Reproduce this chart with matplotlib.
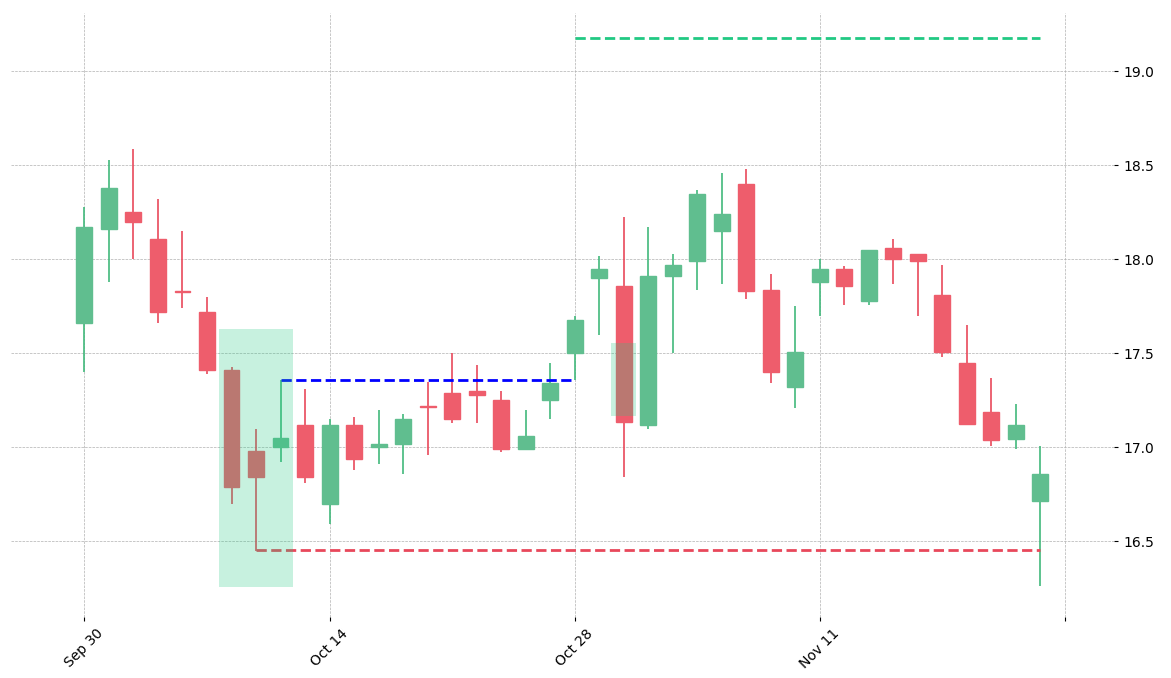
import matplotlib
matplotlib.use("Agg")
import matplotlib.pyplot as plt
import numpy as np

# ------------------------------------------
# Kursdaten
# ------------------------------------------
dates = ["Sep 30", "Oct 01", "Oct 02", "Oct 03", "Oct 04",
         "Oct 07", "Oct 08", "Oct 09", "Oct 10", "Oct 11",
         "Oct 14", "Oct 15", "Oct 16", "Oct 17", "Oct 18",
         "Oct 21", "Oct 22", "Oct 23", "Oct 24", "Oct 25",
         "Oct 28", "Oct 29", "Oct 30", "Oct 31", "Nov 01",
         "Nov 04", "Nov 05", "Nov 06", "Nov 07", "Nov 08",
         "Nov 11", "Nov 12", "Nov 13", "Nov 14", "Nov 15",
         "Nov 18", "Nov 19", "Nov 20", "Nov 21", "Nov 22"]

opens = [17.66, 18.16, 18.25, 18.11, 17.83, 17.72, 17.41, 16.98, 17.00, 17.12,
         16.70, 17.12, 17.00, 17.02, 17.22, 17.29, 17.30, 17.25, 16.99, 17.25,
         17.50, 17.90, 17.86, 17.12, 17.91, 17.99, 18.15, 18.40, 17.84, 17.32,
         17.88, 17.95, 17.78, 18.06, 18.03, 17.81, 17.45, 17.19, 17.045, 16.715]
highs = [18.28, 18.53, 18.59, 18.32, 18.15, 17.80, 17.43, 17.10, 17.36, 17.31,
         17.15, 17.16, 17.20, 17.18, 17.35, 17.50, 17.44, 17.30, 17.20, 17.45,
         17.70, 18.02, 18.225, 18.17, 18.03, 18.37, 18.46, 18.48, 17.92, 17.75,
         18.00, 17.965, 18.05, 18.11, 18.03, 17.97, 17.65, 17.37, 17.23, 17.01]
lows = [17.40, 17.88, 18.00, 17.66, 17.74, 17.39, 16.70, 16.45, 16.92, 16.81,
        16.59, 16.88, 16.91, 16.86, 16.96, 17.13, 17.13, 16.975, 16.985, 17.15,
        17.36, 17.60, 16.84, 17.10, 17.50, 17.84, 17.87, 17.79, 17.34, 17.21,
        17.70, 17.76, 17.76, 17.87, 17.70, 17.48, 17.125, 17.01, 16.99, 16.26]
closes = [18.17, 18.38, 18.20, 17.72, 17.825, 17.41, 16.79, 16.84, 17.05, 16.84,
          17.12, 16.94, 17.02, 17.15, 17.215, 17.15, 17.28, 16.99, 17.06, 17.34,
          17.68, 17.95, 17.135, 17.91, 17.97, 18.35, 18.24, 17.83, 17.40, 17.51,
          17.95, 17.86, 18.05, 18.00, 17.99, 17.51, 17.125, 17.04, 17.12, 16.86]

# Markierte Bereiche (Start, Ende, unten, oben)
zone_x0 = [5.5, 21.5]
zone_x1 = [8.5, 22.5]
zone_lo = [16.255, 17.165]
zone_hi = [17.63, 17.553]

# Horizontale Niveaus (Wert, Start, Ende)
level_vals = [17.36, 16.452, 19.18]
level_start = [8, 7, 20]
level_end = [20, 39, 39]
level_colors = ["#0000ff", "#e8485b", "#21c983"]

tick_pos = [0, 10, 20, 30, 40]
tick_labels = ["Sep 30", "Oct 14", "Oct 28", "Nov 11", ""]

# ------------------------------------------
# Diagramm erstellen
# ------------------------------------------
fig = plt.figure(figsize=(11.71, 6.78), dpi=100)
ax = fig.add_axes([0.0093, 0.0895, 0.942, 0.891])

x = np.arange(len(opens))
o = np.array(opens)
c = np.array(closes)
up = c >= o

body_up = "#60be8f"
body_dn = "#ee5d6c"
wick_up = "#42b97c"
wick_dn = "#e9495b"

# Dochte
ax.vlines(x[up], np.array(lows)[up], np.array(highs)[up], color=wick_up, linewidth=1.2, zorder=2)
ax.vlines(x[~up], np.array(lows)[~up], np.array(highs)[~up], color=wick_dn, linewidth=1.2, zorder=2)

# Kerzenkoerper
bottoms = np.minimum(o, c)
heights = np.maximum(np.abs(c - o), 0.004)
ax.bar(x[up], heights[up], bottom=bottoms[up], width=0.65, color=body_up,
       edgecolor=body_up, linewidth=1, zorder=3)
ax.bar(x[~up], heights[~up], bottom=bottoms[~up], width=0.65, color=body_dn,
       edgecolor=body_dn, linewidth=1, zorder=3)

# Niveaus
for val, s, e, col in zip(level_vals, level_start, level_end, level_colors):
    ax.hlines(val, s, e, colors=col, linestyles="--", linewidth=2, zorder=4)

# Zonen
for x0, x1, lo, hi in zip(zone_x0, zone_x1, zone_lo, zone_hi):
    ax.fill_between([x0, x1], lo, hi, color="#21c983", alpha=0.25, linewidth=0, zorder=5)

# Achsen formatieren
ax.set_xlim(-3, 42)
ax.set_ylim(16.096, 19.31)
ax.set_xticks(tick_pos)
ax.set_xticklabels(tick_labels, rotation=45, fontsize=10)
ax.set_yticks([16.5, 17.0, 17.5, 18.0, 18.5, 19.0])
ax.set_yticklabels(["16.5", "17.0", "17.5", "18.0", "18.5", "19.0"], fontsize=10)
ax.yaxis.tick_right()
ax.tick_params(axis="both", length=3, width=0.8)
for sp in ax.spines.values():
    sp.set_visible(False)
ax.grid(True, linestyle="--", linewidth=0.5, color="#b0b0b0")
ax.set_axisbelow(True)

fig.savefig("out.png", dpi=100)
